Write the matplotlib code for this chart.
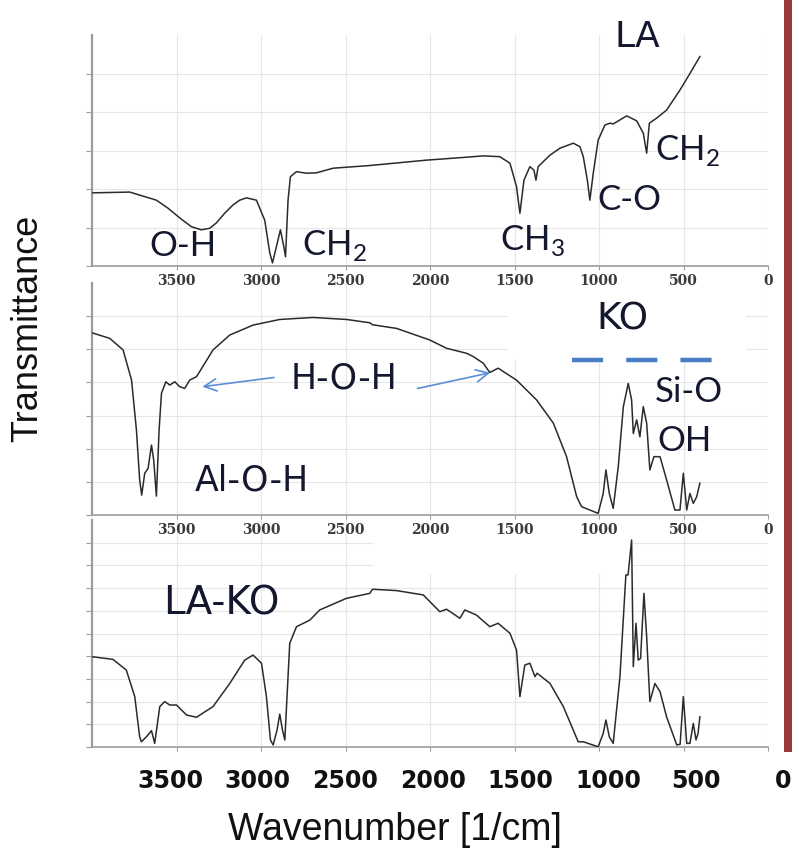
import matplotlib
matplotlib.use("Agg")
import matplotlib.pyplot as plt
from matplotlib.patches import Rectangle

# -- spectra: wavenumber [1/cm] and transmittance (grid units) --
la_wn = [4000, 3777, 3619, 3550, 3481, 3412, 3353, 3303, 3264, 3215, 3167, 3126, 3086,
         3027, 2978, 2948, 2932, 2909, 2885, 2865, 2855, 2840, 2826, 2790, 2731, 2672,
         2573, 2356, 2020, 1800, 1685, 1587, 1527, 1488, 1468, 1444, 1409, 1385, 1373,
         1360, 1290, 1231, 1152, 1113, 1093, 1069, 1054, 1034, 1005, 965, 935, 916, 836,
         777, 738, 718, 702, 659, 600, 521, 462, 403]
la_t = [1.90, 1.92, 1.71, 1.50, 1.25, 1.02, 0.94, 0.98, 1.12, 1.37, 1.58, 1.71, 1.77,
        1.71, 1.19, 0.34, 0.08, 0.50, 0.94, 0.50, 0.24, 1.71, 2.32, 2.45, 2.41, 2.42,
        2.54, 2.61, 2.75, 2.82, 2.86, 2.84, 2.67, 2.06, 1.37, 2.23, 2.58, 2.49, 2.23,
        2.58, 2.88, 3.06, 3.19, 3.10, 2.84, 2.23, 1.71, 2.41, 3.27, 3.66, 3.71, 3.69, 3.90,
        3.77, 3.45, 2.93, 3.71, 3.84, 4.05, 4.57, 5.00, 5.44]

ko_wn = [4002, 3895, 3816, 3766, 3737, 3718, 3706, 3688, 3668, 3648, 3635, 3619, 3603,
         3589, 3563, 3540, 3510, 3481, 3451, 3422, 3382, 3284, 3185, 3047, 2889, 2692,
         2494, 2356, 2340, 2198, 2001, 1902, 1823, 1784, 1744, 1685, 1646, 1597, 1488,
         1369, 1270, 1192, 1132, 1103, 1054, 1005, 975, 959, 939, 916, 886, 856, 827,
         807, 797, 777, 758, 738, 718, 699, 675, 639, 600, 551, 521, 501, 481, 462, 442,
         422, 403]
ko_t = [5.50, 5.33, 4.98, 4.07, 2.56, 1.06, 0.60, 1.26, 1.41, 2.11, 1.66, 0.57, 2.56,
        3.67, 4.02, 3.92, 4.02, 3.87, 3.82, 4.07, 4.17, 4.98, 5.43, 5.73, 5.90, 5.96,
        5.90, 5.80, 5.74, 5.63, 5.28, 5.03, 4.93, 4.88, 4.78, 4.58, 4.30, 4.43, 4.07,
        3.47, 2.77, 1.76, 0.55, 0.25, 0.15, 0.05, 0.65, 1.36, 0.65, 0.20, 1.46, 3.27, 3.97,
        3.47, 2.46, 2.87, 2.36, 3.27, 2.77, 1.36, 1.76, 1.76, 1.06, 0.15, 0.15, 1.26, 0.15,
        0.65, 0.35, 0.55, 0.96]

lako_wn = [4002, 3876, 3797, 3747, 3718, 3708, 3678, 3648, 3629, 3599, 3570, 3540, 3500,
           3441, 3382, 3284, 3185, 3096, 3047, 2997, 2968, 2944, 2928, 2905, 2889, 2873,
           2859, 2830, 2790, 2711, 2652, 2494, 2356, 2340, 2198, 2040, 1942, 1902, 1823,
           1794, 1725, 1646, 1597, 1527, 1488, 1468, 1439, 1409, 1379, 1366, 1290, 1211,
           1123, 1093, 1005, 975, 959, 939, 916, 876, 841, 828, 807, 797, 781, 768, 754,
           734, 718, 699, 669, 639, 600, 540, 520, 501, 481, 462, 442, 426, 414, 403]
lako_t = [3.98, 3.86, 3.39, 2.22, 0.45, 0.23, 0.45, 0.72, 0.16, 1.78, 2.00, 1.85, 1.85,
          1.41, 1.31, 1.78, 2.80, 3.83, 4.05, 3.69, 2.22, 0.31, 0.09, 0.75, 1.45, 0.75,
          0.31, 4.57, 5.30, 5.59, 6.04, 6.55, 6.77, 6.95, 6.89, 6.70, 5.96, 6.07, 5.67,
          6.04, 5.81, 5.30, 5.45, 5.01, 4.27, 2.22, 3.61, 3.69, 3.10, 3.25, 2.80, 1.78,
          0.23, 0.23, 0.01, 0.60, 1.19, 0.45, 0.16, 3.10, 7.58, 7.58, 9.12, 3.54, 5.45,
          3.83, 3.90, 6.77, 4.86, 2.00, 2.80, 2.44, 1.33, 0.09, 0.12, 2.22, 0.16, 0.16,
          1.04, 0.31, 0.60, 1.33]

tick_vals = [3500, 3000, 2500, 2000, 1500, 1000, 500, 0]
tick_labels = ["3500", "3000", "2500", "2000", "1500", "1000", "500", "0"]

W, H = 794, 852
LINE = "#2b2b2b"
TEXT = "#14182e"
ARROW = "#5b8ed6"
SPINE = "#9c9c9c"

plt.rcParams["mathtext.fontset"] = "custom"
plt.rcParams["mathtext.rm"] = "Lato"


def px_box(left, top, right, bottom):
    """Pixel box (from top-left) -> figure fraction rect."""
    return [left / W, 1 - bottom / H, (right - left) / W, (bottom - top) / H]


def style_panel(ax, n_grid, show_labels=True):
    ax.set_xlim(4000, 0)
    ax.set_ylim(0, n_grid)
    ax.set_xticks(tick_vals)
    ax.set_yticks(range(n_grid))
    ax.set_yticklabels([])
    ax.grid(True, color="#e6e6e6", lw=0.8, zorder=0)
    ax.set_axisbelow(True)
    ax.patch.set_visible(False)
    for s in ("top", "right"):
        ax.spines[s].set_visible(False)
    ax.spines["left"].set_color(SPINE)
    ax.spines["left"].set_linewidth(1.6)
    ax.spines["bottom"].set_color(SPINE)
    ax.spines["bottom"].set_linewidth(1.2)
    ax.tick_params(axis="y", length=4, width=0.8, color=SPINE)
    ax.tick_params(axis="x", length=3, width=0.8, color=SPINE, pad=3,
                   labelsize=10, labelcolor="#3a3a3a")
    if show_labels:
        ax.set_xticklabels(tick_labels, fontfamily="DejaVu Serif", fontweight="bold")
    else:
        ax.set_xticklabels([])


fig = plt.figure(figsize=(W / 100, H / 100), dpi=100)

# -- top panel: LA --
ax1 = fig.add_axes(px_box(92, 35, 768, 266))
style_panel(ax1, 6)
ax1.set_zorder(3)
ax1.plot(la_wn, la_t, color=LINE, lw=1.1, zorder=3)
ax1.text(770, 5.95, "LA", fontsize=26, color=TEXT, ha="center", va="center", clip_on=False)
lbl = dict(fontsize=25, color=TEXT, family="Lato")
ax1.text(3463, 0.52, "O-H", ha="center", va="center", **lbl)
ax1.text(2759, 0.29, r"CH$_\mathregular{2}$", ha="left", va="baseline", **lbl)
ax1.text(1587, 0.42, r"CH$_\mathregular{3}$", ha="left", va="baseline", **lbl)
ax1.text(1012, 1.45, "C-O", ha="left", va="baseline", **lbl)
ax1.text(669, 2.75, r"CH$_\mathregular{2}$", ha="left", va="baseline", **lbl)

# -- middle panel: KO --
ax2 = fig.add_axes(px_box(92, 283, 768, 515))
style_panel(ax2, 7)
ax2.set_zorder(2)
ax2.add_patch(Rectangle((1540, 4.72), -1410, 2.4, facecolor="white", edgecolor="none", zorder=1))
ax2.plot(ko_wn, ko_t, color=LINE, lw=1.1, zorder=3)
ax2.text(2510, 4.13, "H-O-H", fontsize=25, color=TEXT, ha="center", va="center")
ax2.annotate("", xy=(3363, 3.86), xytext=(2907, 4.16),
             arrowprops=dict(arrowstyle="->", color=ARROW, lw=1.2, mutation_scale=22))
ax2.annotate("", xy=(1628, 4.31), xytext=(2090, 3.80),
             arrowprops=dict(arrowstyle="->", color=ARROW, lw=1.2, mutation_scale=22))
ax2.text(3055, 1.03, "Al-O-H", fontsize=25, color=TEXT, ha="center", va="center")
ax2.text(864, 5.91, "KO", fontsize=27, color=TEXT, ha="center", va="center")
ax2.plot([1160, 225], [4.68, 4.68], color="#4a7ec4", lw=3.2,
         dashes=(7, 5.2), solid_capstyle="butt", dash_capstyle="butt", zorder=4)
ax2.text(669, 3.71, "Si-O", ha="left", va="center", **lbl)
ax2.text(657, 2.23, "OH", ha="left", va="center", **lbl)

# -- bottom panel: LA-KO --
ax3 = fig.add_axes(px_box(92, 520, 768, 747))
style_panel(ax3, 10, show_labels=False)
ax3.set_zorder(1)
ax3.add_patch(Rectangle((2338, 7.6), -1533, 2.4, facecolor="white", edgecolor="none", zorder=1))
ax3.plot(lako_wn, lako_t, color=LINE, lw=1.1, zorder=3)
ax3.text(3232, 6.34, "LA-KO", fontsize=28, color=TEXT, ha="center", va="center")

# -- large shared tick-label row under the stack --
ax_lbl = fig.add_axes(px_box(92, 767, 792, 768))
ax_lbl.set_xlim(3945, -51)
ax_lbl.set_xticks(tick_vals)
ax_lbl.set_xticklabels(tick_labels, fontsize=17, fontweight="bold", color="#111111")
ax_lbl.set_yticks([])
ax_lbl.tick_params(axis="x", length=0, pad=1)
for s in ax_lbl.spines.values():
    s.set_visible(False)
ax_lbl.patch.set_visible(False)

fig.text(28 / W, 1 - 328 / H, "Transmittance", rotation=90, fontsize=26,
         family="Liberation Sans", ha="center", va="center", color="#111111")
fig.text(395 / W, 1 - 830 / H, "Wavenumber [1/cm]", fontsize=27,
         family="Liberation Sans", ha="center", va="center", color="#111111")

# red bar at the right edge
fig.add_artist(Rectangle((784 / W, 1 - 752 / H), 8 / W, 752 / H, transform=fig.transFigure,
                         facecolor="#9b3a3a", edgecolor="none"))

fig.savefig("out.png", dpi=100)
plt.close(fig)
